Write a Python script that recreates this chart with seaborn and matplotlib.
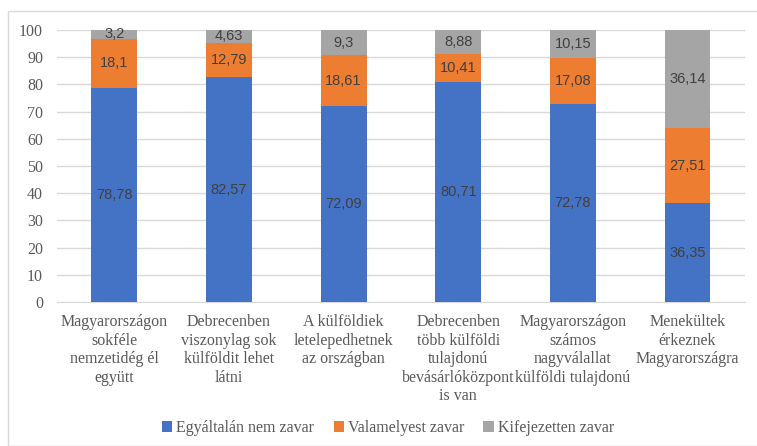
import matplotlib
matplotlib.use("Agg")
import matplotlib.pyplot as plt
import seaborn as sns
from matplotlib.patches import Patch, Rectangle

categories = [
    "Magyarországon\nsokféle\nnemzetidég él\negyütt",
    "Debrecenben\nviszonylag sok\nkülföldit lehet\nlátni",
    "A külföldiek\nletelepedhetnek\naz országban",
    "Debrecenben\ntöbb külföldi\ntulajdonú\nbevásárlóközpont\nis van",
    "Magyarországon\nszámos\nnagyválallat\nkülföldi tulajdonú",
    "Menekültek\nérkeznek\nMagyarországra",
]
not_at_all = [78.78, 82.57, 72.09, 80.71, 72.78, 36.35]
somewhat = [18.1, 12.79, 18.61, 10.41, 17.08, 27.51]
very = [3.2, 4.63, 9.3, 8.88, 10.15, 36.14]

series = ["Egyáltalán nem zavar", "Valamelyest zavar", "Kifejezetten zavar"]
colors = ["#4472C4", "#ED7D31", "#A5A5A5"]

sns.set_style("white")
serif = ["Liberation Serif", "DejaVu Serif"]
sans = ["Liberation Sans", "DejaVu Sans"]

fig = plt.figure(figsize=(7.57, 4.46), dpi=100)
ax = fig.add_axes([0.0753, 0.3229, 0.9087, 0.6098])

bottom = [0.0] * len(categories)
for name, vals, col in zip(series, [not_at_all, somewhat, very], colors):
    sns.barplot(x=categories, y=vals, color=col, saturation=1, width=0.4,
                bottom=bottom, linewidth=0, ax=ax, zorder=3)
    cont = ax.containers[-1]
    ax.bar_label(cont, labels=[str(v).replace(".", ",") for v in vals],
                 label_type="center", color="#404040", fontsize=10.5,
                 family=sans)
    bottom = [b + v for b, v in zip(bottom, vals)]

ax.set_ylim(0, 100)
ax.set_yticks(range(0, 101, 10))
ax.set_xlim(-0.5, len(categories) - 0.5)
ax.yaxis.grid(True, color="#D9D9D9", linewidth=1, zorder=0)
ax.set_axisbelow(True)
for s in ["top", "right", "left"]:
    ax.spines[s].set_visible(False)
ax.spines["bottom"].set_color("#D9D9D9")
ax.tick_params(axis="both", length=0, colors="#595959", labelsize=11.5)
ax.tick_params(axis="x", pad=9)
ax.tick_params(axis="y", pad=10)
for lbl in ax.get_xticklabels() + ax.get_yticklabels():
    lbl.set_family(serif)
for lbl in ax.get_xticklabels():
    lbl.set_linespacing(1.2)
ax.set_xlabel("")
ax.set_ylabel("")

handles = [Patch(facecolor=c, edgecolor="none") for c in colors]
fig.legend(handles, series, loc="center", bbox_to_anchor=(388 / 757, 1 - 428 / 446),
           ncol=3, frameon=False, handlelength=0.65, handleheight=0.65,
           handletextpad=0.25, columnspacing=1.2,
           prop={"family": serif, "size": 11.5}, labelcolor="#595959")

fig.patches.append(Rectangle((8 / 757, 0), 1 - 8 / 757 + 0.01, 1 - 11 / 446,
                             transform=fig.transFigure, fill=False,
                             edgecolor="#D9D9D9", linewidth=1))

fig.savefig("out.png", dpi=100)
